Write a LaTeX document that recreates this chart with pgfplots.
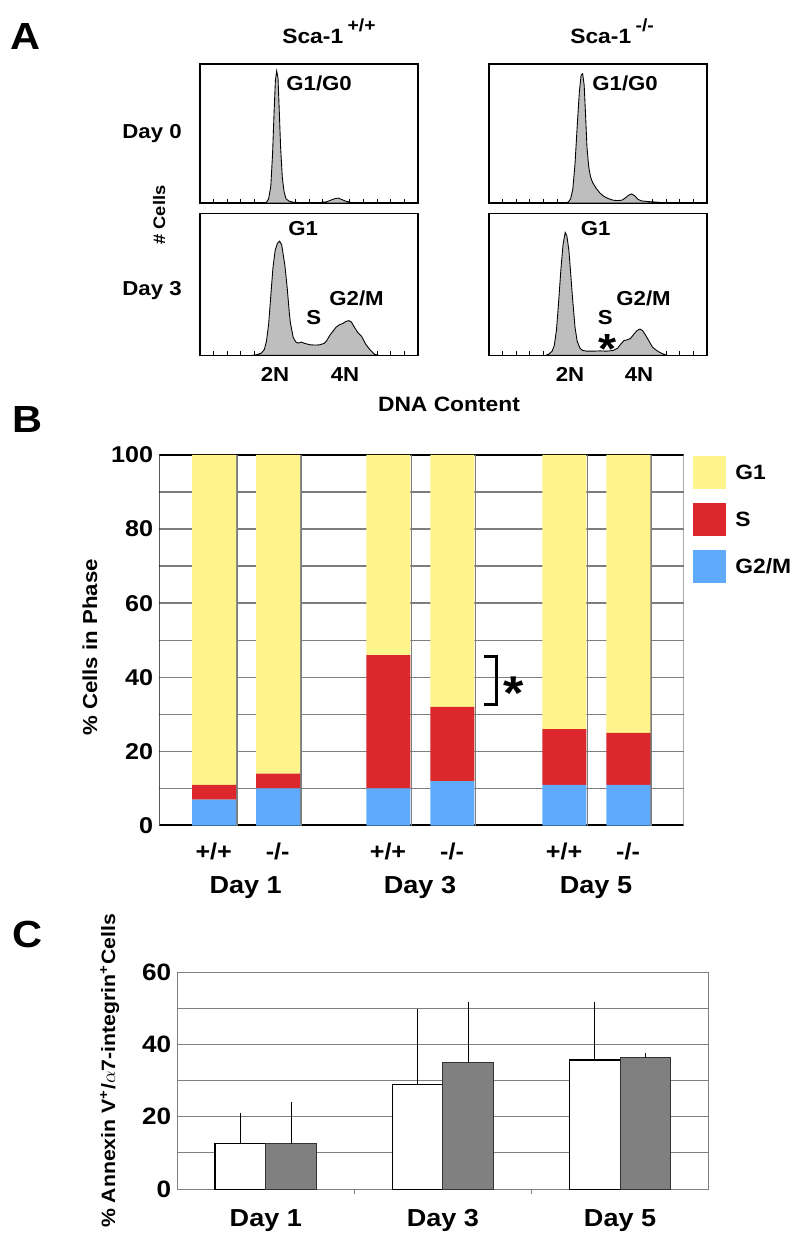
\documentclass[border=0pt]{standalone}
\usepackage{fontspec}
\setmainfont{Liberation Sans}[FakeStretch=1.1]
\usepackage{pgfplots}
\pgfplotsset{compat=1.18}

\definecolor{gone}{RGB}{255,243,140}
\definecolor{sphase}{RGB}{220,40,45}
\definecolor{gtwom}{RGB}{95,170,250}
\definecolor{gridg}{RGB}{125,125,125}
\definecolor{histg}{RGB}{190,190,190}

\newcommand{\fsz}[1]{\fontsize{#1}{#1}\selectfont\bfseries}
\newcommand{\plab}[1]{{\fsz{21.5}#1}}

\pgfplotsset{
  hist/.style={
    anchor=north west, scale only axis, width=4.36cm,
    xmin=0, xmax=100, ymin=0, ymax=100,
    ytick=\empty, xtick={0,6.25,...,100}, xticklabels={},
    xtick pos=bottom, tick align=inside, major tick length=2.5pt,
    tick style={black, line width=0.4pt},
    axis line style={black, line width=0.8pt},
  },
  histfill/.style={fill=histg, draw=black, line width=0.5pt},
}

\begin{document}
\begin{tikzpicture}
\begin{scope}[x=0.02cm,y=-0.02cm]
\path[use as bounding box] (0,0) rectangle (800,1244);
\end{scope}

% ---- A: DNA content histograms
% Day 0, +/+
\begin{axis}[hist, at={(4cm,-1.28cm)}, height=2.78cm]
\addplot[histfill] coordinates {
  (29,0) (30.5,0.5) (31.5,3) (32.5,12) (33.3,35) (34,65) (34.6,88) (35.2,95)
  (35.8,90) (36.3,70) (37,40) (37.8,18) (38.6,8) (39.5,3) (41,1.2) (43,0.5)
  (46,0.3) (50,0.2) (55,0.3) (58,0.8) (60,2) (62,3.2) (63.5,3.5) (65,2.5)
  (67,1.2) (69,0.5) (71,0)
} \closedcycle;
\end{axis}
% Day 0, -/-
\begin{axis}[hist, at={(9.78cm,-1.28cm)}, height=2.78cm]
\addplot[histfill] coordinates {
  (35.5,0) (36.5,0.8) (37.5,3) (38.5,10) (39.5,28) (40.5,55) (41.5,80) (42.3,92)
  (43,93) (43.7,85) (44.3,65) (45,40) (45.8,26) (46.6,19) (47.5,15) (49,11)
  (51,7) (53,4.5) (55,3) (57,2) (59,1.7) (61,2) (62.5,3.5) (64,5.5) (65.5,6.5)
  (67,5) (68.5,2.5) (70,1.5) (73,1) (76,0.7) (79,0.3) (81,0)
} \closedcycle;
\end{axis}
% Day 3, +/+
\begin{axis}[hist, at={(4cm,-4.27cm)}, height=2.84cm]
\addplot[histfill] coordinates {
  (24,0) (26,0.5) (28,1.5) (29.5,4) (30.5,10) (31.5,22) (32.5,42) (33.5,62)
  (34.5,74) (35.5,79) (36.5,80.5) (37.5,78) (38.3,70) (39,63) (40,48) (41,30)
  (41.5,23) (42.8,12.5) (44,9.5) (45,8.7) (46.5,9.4) (48,8.5) (50.5,7.5)
  (53,7.3) (55,7.5) (57,8.5) (58,10) (59.5,14) (61,17) (62.5,20) (64,21.6)
  (65.5,22.5) (67,24) (68.3,24.5) (69.5,23.5) (71,19.5) (72.5,16) (74.2,13.4)
  (76,8) (78,4) (80,1) (82,0)
} \closedcycle;
\end{axis}
% Day 3, -/-
\begin{axis}[hist, at={(9.78cm,-4.27cm)}, height=2.84cm]
\addplot[histfill] coordinates {
  (26,0) (27.5,1) (29,3) (30,7) (31,18) (32,38) (33,60) (34,78) (35,86.6)
  (35.8,84) (36.7,74) (37.5,58) (38.5,38) (39.5,20) (40.5,10) (41.8,5) (43,3.5)
  (45,3) (48,3) (51,3.2) (54,3) (57,3.5) (59,5) (60.5,8) (62,10.5) (63.5,11)
  (65,12) (66.5,15) (68,17.5) (69.3,18.6) (70.5,17.5) (72,14) (73.5,10) (75,6)
  (76.5,4) (78,2.5) (80,1) (82,0)
} \closedcycle;
\end{axis}

% ---- B: cell cycle phases (stacked)
\begin{axis}[at={(3.188cm,-16.514cm)}, anchor=south west, scale only axis,
  width=10.486cm, height=7.414cm,
  xmin=0, xmax=524.3, ymin=0, ymax=100,
  ybar stacked, bar width=44,
  xtick=\empty, ytick={0,20,...,100}, minor ytick={10,30,...,90},
  major tick length=0pt, minor tick length=0pt,
  ymajorgrids, yminorgrids,
  major grid style={gridg, line width=0.8pt},
  minor grid style={gridg, line width=0.8pt},
  axis line style={draw=none},
  yticklabel style={font=\fsz{13}},
  /pgf/number format/assume math mode=true,
]
\addplot[fill=gtwom, draw=none] coordinates {(54.7,7) (118.7,10) (229,10) (293,12) (405,11) (469,11)};
\addplot[fill=sphase, draw=none] coordinates {(54.7,4) (118.7,4) (229,36) (293,20) (405,15) (469,14)};
\addplot[fill=gone, draw=none] coordinates {(54.7,89) (118.7,86) (229,54) (293,68) (405,74) (469,75)};
\draw[gridg, line width=0.9pt] (axis cs:77.7,0) -- (axis cs:77.7,100);
\draw[gridg, line width=0.9pt] (axis cs:141.7,0) -- (axis cs:141.7,100);
\draw[gridg, line width=0.9pt] (axis cs:252,0) -- (axis cs:252,100);
\draw[gridg, line width=0.9pt] (axis cs:316,0) -- (axis cs:316,100);
\draw[gridg, line width=0.9pt] (axis cs:428,0) -- (axis cs:428,100);
\draw[gridg, line width=0.9pt] (axis cs:492,0) -- (axis cs:492,100);
\draw[gridg, line width=1pt] (rel axis cs:1,0) -- (rel axis cs:1,1);
\draw[black, line width=1.2pt] (rel axis cs:1,1) -- (rel axis cs:0,1) -- (rel axis cs:0,0) -- (rel axis cs:1,0);
\draw[black, line width=1.8pt] (axis cs:325,45.6) -- (axis cs:337.5,45.6) -- (axis cs:337.5,32.6) -- (axis cs:325,32.6);
\end{axis}

% ---- C: Annexin V+ cells
\begin{axis}[at={(3.546cm,-23.786cm)}, anchor=south west, scale only axis,
  width=10.63cm, height=4.34cm,
  xmin=0, xmax=3, ymin=0, ymax=60,
  ybar, bar width=0.287,
  ytick={0,20,40,60}, minor ytick={10,30,50},
  xtick={0.5,1.5,2.5}, xticklabels={Day 1,Day 3,Day 5},
  xtick pos=bottom, ytick pos=left,
  extra x ticks={1,2}, extra x tick labels={},
  extra x tick style={tick align=outside, major tick length=3pt, tick style={gridg, line width=0.4pt}},
  major tick length=0pt, minor tick length=0pt,
  ymajorgrids, yminorgrids,
  major grid style={gray, line width=0.5pt},
  minor grid style={gray, line width=0.5pt},
  axis line style={gray, line width=0.6pt},
  yticklabel style={font=\fsz{13.5}},
  xticklabel style={font=\fsz{14}, yshift=-8pt},
  /pgf/number format/assume math mode=true,
]
\addplot[fill=white, draw=black, line width=0.6pt, bar shift=-0.1435,
  error bars/.cd, y dir=plus, y explicit,
  error bar style={black, line width=0.4pt},
  error mark options={black, mark size=1.5pt, line width=0.4pt}]
  coordinates {(0.5,12.5) +- (0,7.9) (1.5,29.0) +- (0,20.0) (2.5,35.7) +- (0,15.2)};
\addplot[fill=gray, draw=black!80, line width=0.6pt, bar shift=0.1435,
  error bars/.cd, y dir=plus, y explicit,
  error bar style={black, line width=0.4pt},
  error mark options={black, mark size=1.5pt, line width=0.4pt}]
  coordinates {(0.5,12.5) +- (0,10.9) (1.5,35.0) +- (0,15.9) (2.5,36.5) +- (0,0.4)};
\end{axis}

% ---- text
\begin{scope}[x=0.02cm,y=-0.02cm, every node/.style={inner sep=0pt}]
\node[anchor=base west] at (10,50) {\plab{A}};
\node[anchor=base west] at (12,432) {\plab{B}};
\node[anchor=base west] at (12,947) {\plab{C}};

\node[anchor=base west, font=\fsz{11.8}] at (282,43.3) {Sca-1\hspace{2.5pt}\raisebox{6.6pt}{\fsz{10}+/+}};
\node[anchor=base west, font=\fsz{11.8}] at (570,43.3) {Sca-1\hspace{2.5pt}\raisebox{6.6pt}{\fsz{10}-/-}};
\node[anchor=base, font=\fsz{11.5}] at (152,138.3) {Day 0};
\node[anchor=base, font=\fsz{11.5}] at (152,295) {Day 3};
\node[anchor=base, rotate=90, font=\fsz{9.5}] at (165,215) {\# Cells};
\node[anchor=base west, font=\fsz{11.5}] at (286,90) {G1/G0};
\node[anchor=base west, font=\fsz{11.5}] at (592,90) {G1/G0};
\node[anchor=base west, font=\fsz{11.5}] at (288,235) {G1};
\node[anchor=base west, font=\fsz{11.5}] at (580.5,235) {G1};
\node[anchor=base west, font=\fsz{11.5}] at (306,324) {S};
\node[anchor=base west, font=\fsz{11.5}] at (597.5,324) {S};
\node[anchor=base west, font=\fsz{11.5}] at (329,305) {G2/M};
\node[anchor=base west, font=\fsz{11.5}] at (616,305) {G2/M};
\node[anchor=base, font=\fsz{24}] at (608,363) {*};
\node[anchor=base, font=\fsz{11.5}] at (275,381.7) {2N};
\node[anchor=base, font=\fsz{11.5}] at (345,381.7) {4N};
\node[anchor=base, font=\fsz{11.5}] at (570,381.7) {2N};
\node[anchor=base, font=\fsz{11.5}] at (639,381.7) {4N};
\node[anchor=base, font=\fsz{11.8}] at (449,411.7) {DNA Content};

\node[anchor=base, rotate=90, font=\fsz{11.5}] at (97,647.5) {\% Cells in Phase};
\node[anchor=base, font=\fsz{27}] at (514,709) {*};
\foreach \xx in {213.7,388,564} \node[anchor=base, font=\fsz{13}] at (\xx,859) {+/+};
\foreach \xx in {277.7,452,628} \node[anchor=base, font=\fsz{13}] at (\xx,859) {-/-};
\node[anchor=base, font=\fsz{14}] at (245.7,893.3) {Day 1};
\node[anchor=base, font=\fsz{14}] at (420,893.3) {Day 3};
\node[anchor=base, font=\fsz{14}] at (596,893.3) {Day 5};
\fill[gone] (693,456) rectangle (726,489);
\fill[sphase] (693,503) rectangle (726,536);
\fill[gtwom] (693,550) rectangle (726,583);
\node[anchor=base west, font=\fsz{11.8}] at (735,479.5) {G1};
\node[anchor=base west, font=\fsz{11.8}] at (735,526.5) {S};
\node[anchor=base west, font=\fsz{11.8}] at (735,573.5) {G2/M};

\node[anchor=base, rotate=90, font=\fsz{11}] at (115,1071) {\% Annexin V\textsuperscript{+}/$\alpha$7-integrin\textsuperscript{+}Cells};
\end{scope}
\end{tikzpicture}
\end{document}
